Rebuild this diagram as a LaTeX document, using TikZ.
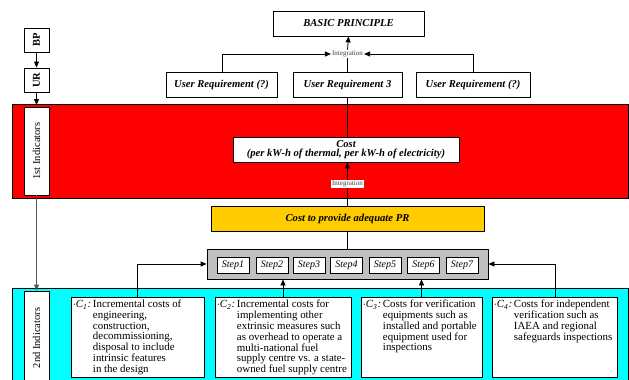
\documentclass[tikz,border=0pt]{standalone}
\usepackage{fontspec}
\setmainfont{Liberation Serif}
\usetikzlibrary{arrows.meta,positioning}
\definecolor{bandred}{HTML}{FF0000}
\definecolor{bandcyan}{HTML}{00FFFF}
\definecolor{prgold}{HTML}{FFCC00}
\definecolor{stepgray}{HTML}{C0C0C0}
\definecolor{linkgray}{HTML}{555555}
\tikzset{
  box/.style={draw=black, line width=0.8pt, fill=white, inner sep=0pt, align=center},
  headbox/.style={box, font=\fontsize{10.6}{11}\selectfont\bfseries\itshape},
  sidebox/.style={box, minimum height=25pt, rotate=90},
  stepbox/.style={box, minimum width=32pt, minimum height=16pt, font=\fontsize{10}{10}\selectfont\itshape},
  cbox/.style={box, minimum height=80pt},
  ctext/.style={anchor=north west, inner sep=0pt, align=left, font=\fontsize{10.9}{10.6}\selectfont},
  integ/.style={fill=white, inner sep=1pt, font=\fontsize{7}{7}\selectfont, text=black!75},
  arr/.style={line width=0.8pt, -{Triangle[length=6pt,width=5pt]}},
  lnk/.style={line width=0.8pt},
}
\newcommand{\cpre}[1]{$\cdot$\textit{C}$_{\mathit{#1}}$\textit{:}}
\begin{document}
\begin{tikzpicture}[x=1pt,y=-1pt]
\useasboundingbox (0,0) rectangle (629,380);

% background bands
\node[draw=black, line width=0.8pt, fill=bandred, minimum width=616pt, minimum height=94pt, inner sep=0pt] (redband) at (320,151) {};
\node[draw=black, line width=0.8pt, fill=bandcyan, minimum width=616pt, minimum height=110pt, inner sep=0pt] (cyanband) at (320,343) {};

% top level
\node[headbox, minimum width=151pt, minimum height=25pt] (bp) at (348.5,23.5) {BASIC PRINCIPLE};
\node[headbox, minimum width=111pt, minimum height=25pt] (urA) at (221.5,84.5) {User Requirement (?)};
\node[headbox, minimum width=109pt, minimum height=25pt] (urB) at (347.5,84.5) {User Requirement 3};
\node[headbox, minimum width=114pt, minimum height=25pt] (urC) at (473,84.5) {User Requirement (?)};
\node[integ] (intA) at (347.5,54) {Integration};

% left level markers
\node[sidebox, minimum width=24pt, font=\fontsize{10.5}{11}\selectfont\bfseries] (sBP) at (36.5,40) {BP};
\node[sidebox, minimum width=24pt, font=\fontsize{10.5}{11}\selectfont\bfseries] (sUR) at (36.5,80) {UR};
\node[sidebox, minimum width=88pt, font=\fontsize{10.5}{11}\selectfont] (s1st) at (36.5,151) {1st Indicators};
\node[sidebox, minimum width=94pt, font=\fontsize{10.5}{11}\selectfont] (s2nd) at (36.5,338) {2nd Indicators};

% cost chain
\node[headbox, minimum width=226pt, minimum height=25pt] (cost) at (346,149.5) {Cost\\[-1.5pt](per kW-h of thermal, per kW-h of electricity)};
\node[integ] (intB) at (347.5,184) {Integration};
\node[headbox, fill=prgold, minimum width=273pt, minimum height=25pt] (pr) at (347.5,218.5) {Cost to provide adequate PR};

% step strip
\node[box, fill=stepgray, minimum width=281pt, minimum height=30pt] (strip) at (347.5,264) {};
\foreach \i/\x in {1/233,2/272,3/309,4/346.5,5/385,6/423.5,7/462}
  \node[stepbox] (st\i) at (\x,265) {Step\i};

% cost components
\node[cbox, minimum width=133pt] (c1) at (137.5,337) {};
\node[cbox, minimum width=136pt] (c2) at (283,337) {};
\node[cbox, minimum width=121pt] (c3) at (421.5,337) {};
\node[cbox, minimum width=125pt] (c4) at (554.5,337) {};

\node[ctext] (t1) at ([shift={(2,3.5)}]c1.north west) {\begin{tabular}{@{}l@{\,}l@{}}\cpre{1} & Incremental costs of\\ & engineering,\\ & construction,\\ & decommissioning,\\ & disposal to include\\ & intrinsic features\\ & in the design\end{tabular}};
\node[ctext] (t2) at ([shift={(2,3.5)}]c2.north west) {\begin{tabular}{@{}l@{\,}l@{}}\cpre{2} & Incremental costs for\\ & implementing other\\ & extrinsic measures such\\ & as overhead to operate a\\ & multi-national fuel\\ & supply centre vs. a state-\\ & owned fuel supply centre\end{tabular}};
\node[ctext] (t3) at ([shift={(2,3.5)}]c3.north west) {\begin{tabular}{@{}l@{\,}l@{}}\cpre{3} & Costs for verification\\ & equipments such as\\ & installed and portable\\ & equipment used for\\ & inspections\end{tabular}};
\node[ctext] (t4) at ([shift={(2,3.5)}]c4.north west) {\begin{tabular}{@{}l@{\,}l@{}}\cpre{4} & Costs for independent\\ & verification such as\\ & IAEA and regional\\ & safeguards inspections\end{tabular}};

% connectors: top integration
\draw[arr] (urA.north -| 222,0) |- (intA.west);
\draw[arr] (urC.north -| 473,0) |- (intA.east);
\draw[lnk] (urB.north) -- (intA.south);
\draw[arr] (intA.north) -- (bp.south);
\draw[lnk] (urB.south) -- (cost.north -| urB.south);

% cost chain
\draw[lnk] (pr.north) -- (intB.south);
\draw[arr] (intB.north) -- (cost.south -| intB.north);
\draw[lnk] (pr.south) -- (strip.north);

% components into the strip
\coordinate (jL) at (137,264);
\coordinate (jR) at (555,264);
\draw[arr] (c1.north -| jL) -- (jL) -- (strip.west);
\draw[arr] (c4.north -| jR) -- (jR) -- (strip.east);
\draw[arr] (c2.north) -- (c2.north |- strip.south);
\draw[arr] (c3.north) -- (c3.north |- strip.south);

% left markers
\draw[arr] (sBP.west) -- (sUR.east);
\draw[arr] (sUR.west) -- (36.5,105);
\draw[arr, draw=linkgray] (s1st.west) -- (s2nd.east);
\end{tikzpicture}
\end{document}
